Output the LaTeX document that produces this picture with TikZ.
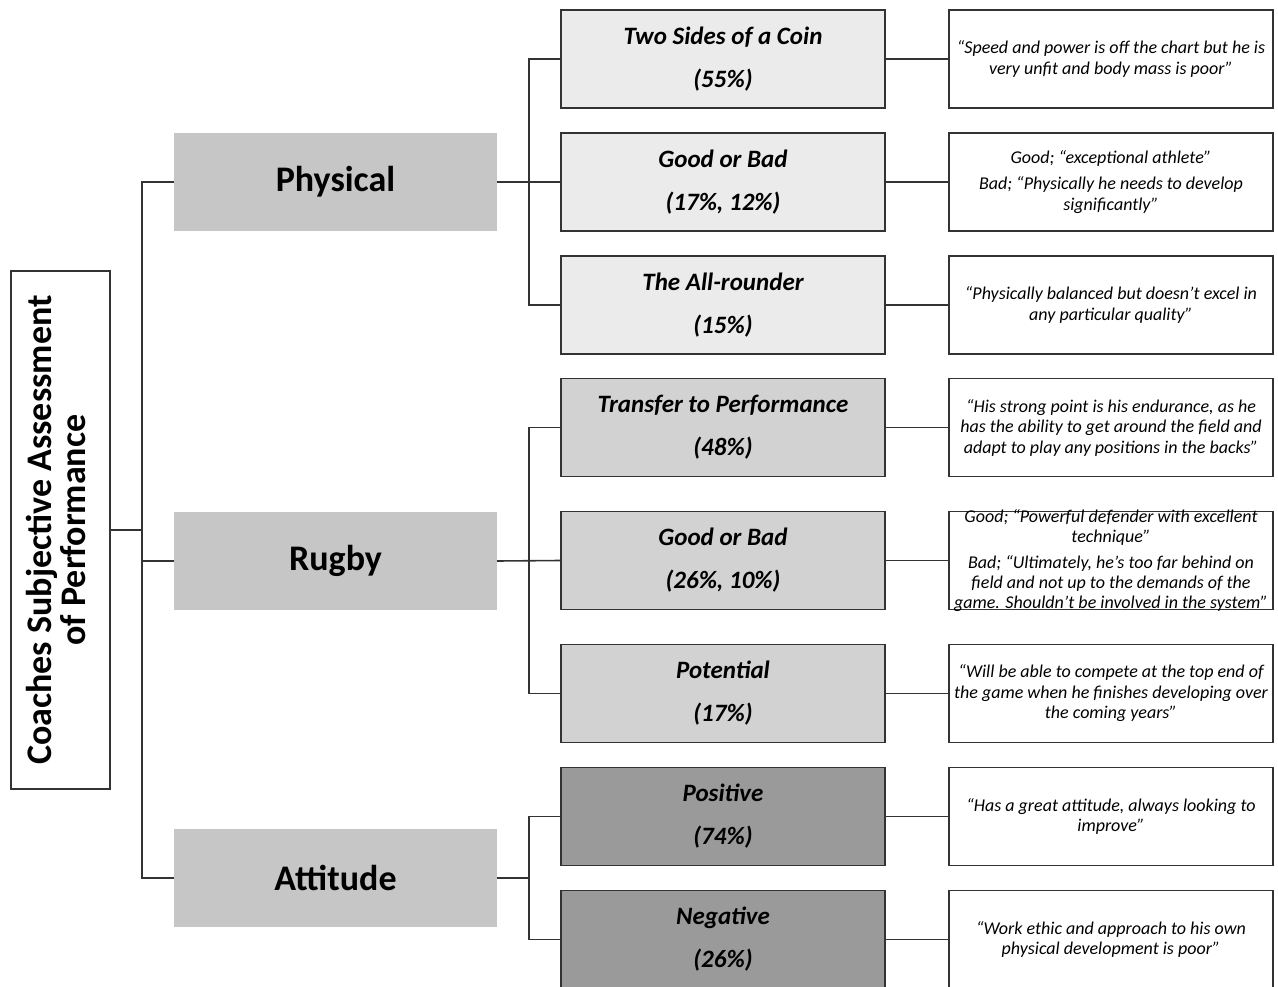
\documentclass[tikz,border=0pt]{standalone}
\usepackage{fontspec}
\setmainfont{Carlito}
\definecolor{linec}{HTML}{333333}
\definecolor{catfill}{HTML}{C6C6C6}
\definecolor{physfill}{HTML}{EBEBEB}
\definecolor{rugfill}{HTML}{D2D2D2}
\definecolor{attfill}{HTML}{9A9A9A}
\begin{document}
\begin{tikzpicture}[x=1pt,y=-1pt,
  every node/.style={inner sep=0pt, outer sep=0pt},
  conn/.style={draw=linec, line width=1.6pt},
  rootbox/.style={draw=linec, line width=1.6pt, fill=white, minimum width=99pt, minimum height=518pt,
    align=center, font=\bfseries\fontsize{36}{40}\selectfont},
  catbox/.style={fill=catfill, minimum width=323pt, minimum height=98pt, font=\bfseries\fontsize{36}{40}\selectfont},
  subbox/.style={draw=linec, line width=1.6pt, minimum width=324pt, minimum height=98pt,
    align=center, font=\bfseries\itshape\fontsize{25}{43}\selectfont},
  quotebox/.style={draw=linec, line width=1.6pt, fill=white, minimum width=324pt, minimum height=98pt,
    align=center, font=\itshape\fontsize{18}{20.5}\selectfont},
  quotetext/.style={align=center, font=\itshape\fontsize{18}{20}\selectfont},
]
\useasboundingbox (0,0) rectangle (1278,987);
% root
\node[rootbox] (root) at (60.5,530) {\rotatebox{90}{\begin{tabular}{c}Coaches Subjective Assessment\\[-6pt] of Performance\end{tabular}}};
% categories
\node[catbox] (phys) at (335.5,182) {Physical};
\node[catbox] (rug) at (335.5,561) {Rugby};
\node[catbox] (att) at (335.5,878) {Attitude};
% subthemes
\node[subbox, fill=physfill] (s1) at (723,59) {Two Sides of a Coin\\(55\%)};
\node[subbox, fill=physfill] (s2) at (723,182) {Good or Bad\\(17\%, 12\%)};
\node[subbox, fill=physfill] (s3) at (723,305) {The All-rounder\\(15\%)};
\node[subbox, fill=rugfill] (s4) at (723,427.5) {Transfer to Performance\\(48\%)};
\node[subbox, fill=rugfill] (s5) at (723,560.5) {Good or Bad\\(26\%, 10\%)};
\node[subbox, fill=rugfill] (s6) at (723,693.5) {Potential\\(17\%)};
\node[subbox, fill=attfill] (s7) at (723,816.5) {Positive\\(74\%)};
\node[subbox, fill=attfill] (s8) at (723,939.5) {Negative\\(26\%)};
% quotes
\node[quotebox] (q1) at (1111,59) {“Speed and power is off the chart but he is\\very unfit and body mass is poor”};
\node[quotebox] (q2) at (1111,182) {Good; “exceptional athlete”\\[6pt]Bad; “Physically he needs to develop\\significantly”};
\node[quotebox] (q3) at (1111,305) {“Physically balanced but doesn’t excel in\\any particular quality”};
\node[quotebox] (q4) at (1111,427.5) {“His strong point is his endurance, as he\\has the ability to get around the field and\\adapt to play any positions in the backs”};
\node[quotebox] (q5) at (1111,560.5) {};
\node[quotetext] (q5t) at (1111,560.5) {Good; “Powerful defender with excellent\\technique”\\[6pt]Bad; “Ultimately, he’s too far behind on\\field and not up to the demands of the\\game. Shouldn’t be involved in the system”};
\node[quotebox] (q6) at (1111,693.5) {“Will be able to compete at the top end of\\the game when he finishes developing over\\the coming years”};
\node[quotebox] (q7) at (1111,816.5) {“Has a great attitude, always looking to\\improve”};
\node[quotebox] (q8) at (1111,939.5) {“Work ethic and approach to his own\\physical development is poor”};
% junctions
\coordinate (j0) at (142,530);
\coordinate (j1) at (529,182);
\coordinate (j2) at (529,561);
\coordinate (j3) at (529,878);
% root connectors
\draw[conn] (root.east) -- (j0);
\draw[conn] (phys.west) -| (j0);
\draw[conn] (att.west) -| (j0);
\draw[conn] (rug.west) -- (rug.west -| j0);
% physical bracket
\draw[conn] (phys.east) -- (s2.west);
\draw[conn] (s1.west) -| (j1);
\draw[conn] (s3.west) -| (j1);
% rugby bracket
\draw[conn] (rug.east) -- (s5.west);
\draw[conn] (s4.west) -| (j2);
\draw[conn] (s6.west) -| (j2);
% attitude bracket
\draw[conn] (att.east) -- (j3);
\draw[conn] (s7.west) -| (j3);
\draw[conn] (s8.west) -| (j3);
% subtheme to quote
\foreach \i in {1,...,8} { \draw[conn] (s\i.east) -- (q\i.west); }
\end{tikzpicture}
\end{document}
